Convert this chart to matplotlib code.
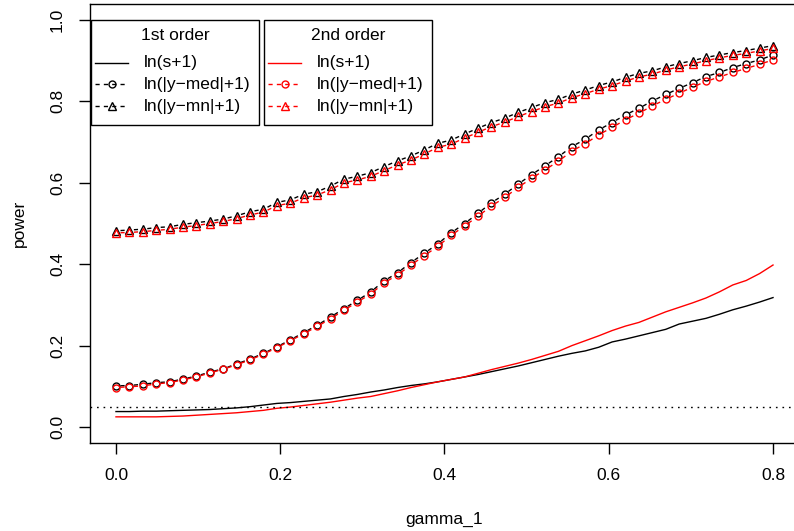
import numpy as np
import matplotlib
matplotlib.use("Agg")
from matplotlib import pyplot as plt
from matplotlib.collections import LineCollection
from matplotlib.lines import Line2D
from matplotlib.patches import Rectangle

plt.rcParams['font.family'] = ['Liberation Sans', 'DejaVu Sans']

# gamma_1 grid (50 points from 0 to 0.8)
gamma = np.linspace(0, 0.8, 50)

# 1st order
s_first = [0.038, 0.038, 0.039, 0.039, 0.040, 0.041, 0.042, 0.043, 0.045, 0.047,
           0.050, 0.054, 0.058, 0.060, 0.063, 0.066, 0.069, 0.075, 0.080, 0.086,
           0.091, 0.097, 0.102, 0.106, 0.111, 0.117, 0.123, 0.129, 0.136, 0.143,
           0.150, 0.158, 0.166, 0.174, 0.181, 0.187, 0.196, 0.209, 0.216, 0.224,
           0.232, 0.240, 0.253, 0.260, 0.267, 0.277, 0.288, 0.297, 0.307, 0.318]
med_first = [0.101, 0.102, 0.105, 0.109, 0.111, 0.118, 0.125, 0.135, 0.143, 0.155,
             0.167, 0.181, 0.197, 0.214, 0.232, 0.250, 0.270, 0.291, 0.311, 0.332,
             0.359, 0.379, 0.404, 0.427, 0.450, 0.477, 0.500, 0.525, 0.551, 0.572,
             0.597, 0.620, 0.642, 0.664, 0.689, 0.707, 0.730, 0.748, 0.767, 0.783,
             0.801, 0.817, 0.832, 0.846, 0.861, 0.871, 0.883, 0.893, 0.902, 0.914]
mn_first = [0.482, 0.484, 0.486, 0.490, 0.492, 0.498, 0.502, 0.506, 0.511, 0.519,
            0.529, 0.535, 0.552, 0.558, 0.572, 0.578, 0.592, 0.609, 0.616, 0.625,
            0.640, 0.654, 0.666, 0.681, 0.697, 0.705, 0.720, 0.734, 0.748, 0.759,
            0.773, 0.785, 0.797, 0.805, 0.818, 0.828, 0.839, 0.848, 0.859, 0.869,
            0.875, 0.885, 0.893, 0.900, 0.908, 0.914, 0.920, 0.925, 0.931, 0.937]

# 2nd order
s_second = [0.025, 0.025, 0.025, 0.025, 0.026, 0.027, 0.029, 0.031, 0.033, 0.035,
            0.038, 0.041, 0.046, 0.049, 0.053, 0.057, 0.061, 0.066, 0.071, 0.075,
            0.082, 0.089, 0.097, 0.104, 0.111, 0.117, 0.123, 0.132, 0.141, 0.149,
            0.157, 0.166, 0.176, 0.186, 0.200, 0.212, 0.224, 0.237, 0.248, 0.257,
            0.270, 0.283, 0.294, 0.305, 0.317, 0.332, 0.349, 0.360, 0.377, 0.398]
med_second = [0.097, 0.099, 0.101, 0.106, 0.109, 0.116, 0.123, 0.133, 0.142, 0.153,
              0.165, 0.179, 0.195, 0.212, 0.229, 0.247, 0.266, 0.287, 0.307, 0.327,
              0.354, 0.374, 0.398, 0.421, 0.444, 0.471, 0.494, 0.518, 0.543, 0.564,
              0.589, 0.611, 0.632, 0.653, 0.678, 0.696, 0.718, 0.736, 0.755, 0.771,
              0.789, 0.805, 0.820, 0.835, 0.849, 0.860, 0.871, 0.881, 0.891, 0.902]
mn_second = [0.477, 0.478, 0.480, 0.483, 0.486, 0.491, 0.495, 0.500, 0.505, 0.512,
             0.521, 0.528, 0.544, 0.550, 0.563, 0.570, 0.583, 0.600, 0.607, 0.616,
             0.630, 0.644, 0.656, 0.671, 0.687, 0.695, 0.710, 0.724, 0.738, 0.749,
             0.763, 0.775, 0.787, 0.796, 0.809, 0.819, 0.830, 0.839, 0.850, 0.860,
             0.867, 0.877, 0.885, 0.892, 0.900, 0.907, 0.913, 0.918, 0.924, 0.930]

alpha_level = 0.05
x_ticks = [0.0, 0.2, 0.4, 0.6, 0.8]
y_ticks = [0.0, 0.2, 0.4, 0.6, 0.8, 1.0]
labels = ['ln(s+1)', 'ln(|y\u2212med|+1)', 'ln(|y\u2212mn|+1)']

W, H = 794, 531
fx = lambda x: x / W
fy = lambda y: 1 - y / H

fig = plt.figure(figsize=(W / 100, H / 100), dpi=100)
ax = fig.add_axes([fx(89.7), fy(443.3), (799.3 - 89.7) / W, (443.3 - 3.7) / H])
ax.set_xlim(-0.032, 0.832)
ax.set_ylim(-0.04, 1.04)
for sp in ax.spines.values():
    sp.set_linewidth(1)
ax.set_xticks(x_ticks)
ax.set_xticklabels(['%.1f' % v for v in x_ticks])
ax.set_yticks(y_ticks)
ax.set_yticklabels(['%.1f' % v for v in y_ticks], rotation=90, va='center')
ax.tick_params(direction='out', length=7.7, width=1, labelsize=12.5, pad=10)

GAP = 4.5  # pixels left open around each point (R type="b")


def plot_b(x, y, color, marker, ms):
    pts = ax.transData.transform(np.column_stack([x, y]))
    inv = ax.transData.inverted()
    segs = []
    for p, q in zip(pts[:-1], pts[1:]):
        d = q - p
        L = np.hypot(d[0], d[1])
        if L > 2 * GAP:
            u = d / L
            segs.append(inv.transform(np.array([p + u * GAP, q - u * GAP])))
    ax.add_collection(LineCollection(segs, colors=color, linewidths=1,
                                     linestyles=[(0, (3, 3))]))
    ax.plot(x, y, linestyle='none', marker=marker, mfc='none', mec=color,
            ms=ms, mew=1)


ax.plot(gamma, s_first, color='black', lw=1)
plot_b(gamma, med_first, 'black', 'o', 5)
plot_b(gamma, mn_first, 'black', '^', 6)
ax.plot(gamma, s_second, color='red', lw=1)
plot_b(gamma, med_second, 'red', 'o', 5)
plot_b(gamma, mn_second, 'red', '^', 6)

ax.axhline(alpha_level, color='black', lw=1, linestyle=(0, (1.2, 3.5)))

fig.text(fx(444.5), fy(519), 'gamma_1', ha='center', va='center', fontsize=12.5)
fig.text(fx(19), fy(223), 'power', ha='center', va='center', rotation=90,
         fontsize=12.5)


def legend_box(x0, x1, title, color):
    fig.add_artist(Rectangle((fx(x0), fy(125)), fx(x1) - fx(x0), fy(20) - fy(125),
                             transform=fig.transFigure, facecolor='white',
                             edgecolor='black', lw=1, zorder=5))
    fig.text(fx((x0 + x1) / 2), fy(35), title, ha='center', va='center',
             fontsize=12.5, zorder=6)
    rows = [63, 84, 106]
    styles = [('-', None, 0), ((0, (3, 3)), 'o', 5), ((0, (3, 3)), '^', 6)]
    for yy, lab, (ls, mk, ms) in zip(rows, labels, styles):
        fig.add_artist(Line2D([fx(x0 + 4), fx(x0 + 37)], [fy(yy), fy(yy)],
                              transform=fig.transFigure, color=color, lw=1,
                              linestyle=ls, zorder=6))
        if mk:
            fig.add_artist(Line2D([fx(x0 + 21)], [fy(yy)], transform=fig.transFigure,
                                  marker=mk, mfc='none', mec=color, ms=ms, mew=1,
                                  linestyle='none', zorder=7))
        fig.text(fx(x0 + 53), fy(yy), lab, ha='left', va='center',
                 fontsize=12.5, zorder=6)


legend_box(91, 259, '1st order', 'black')
legend_box(264, 432, '2nd order', 'red')

fig.savefig('out.png', dpi=100)
